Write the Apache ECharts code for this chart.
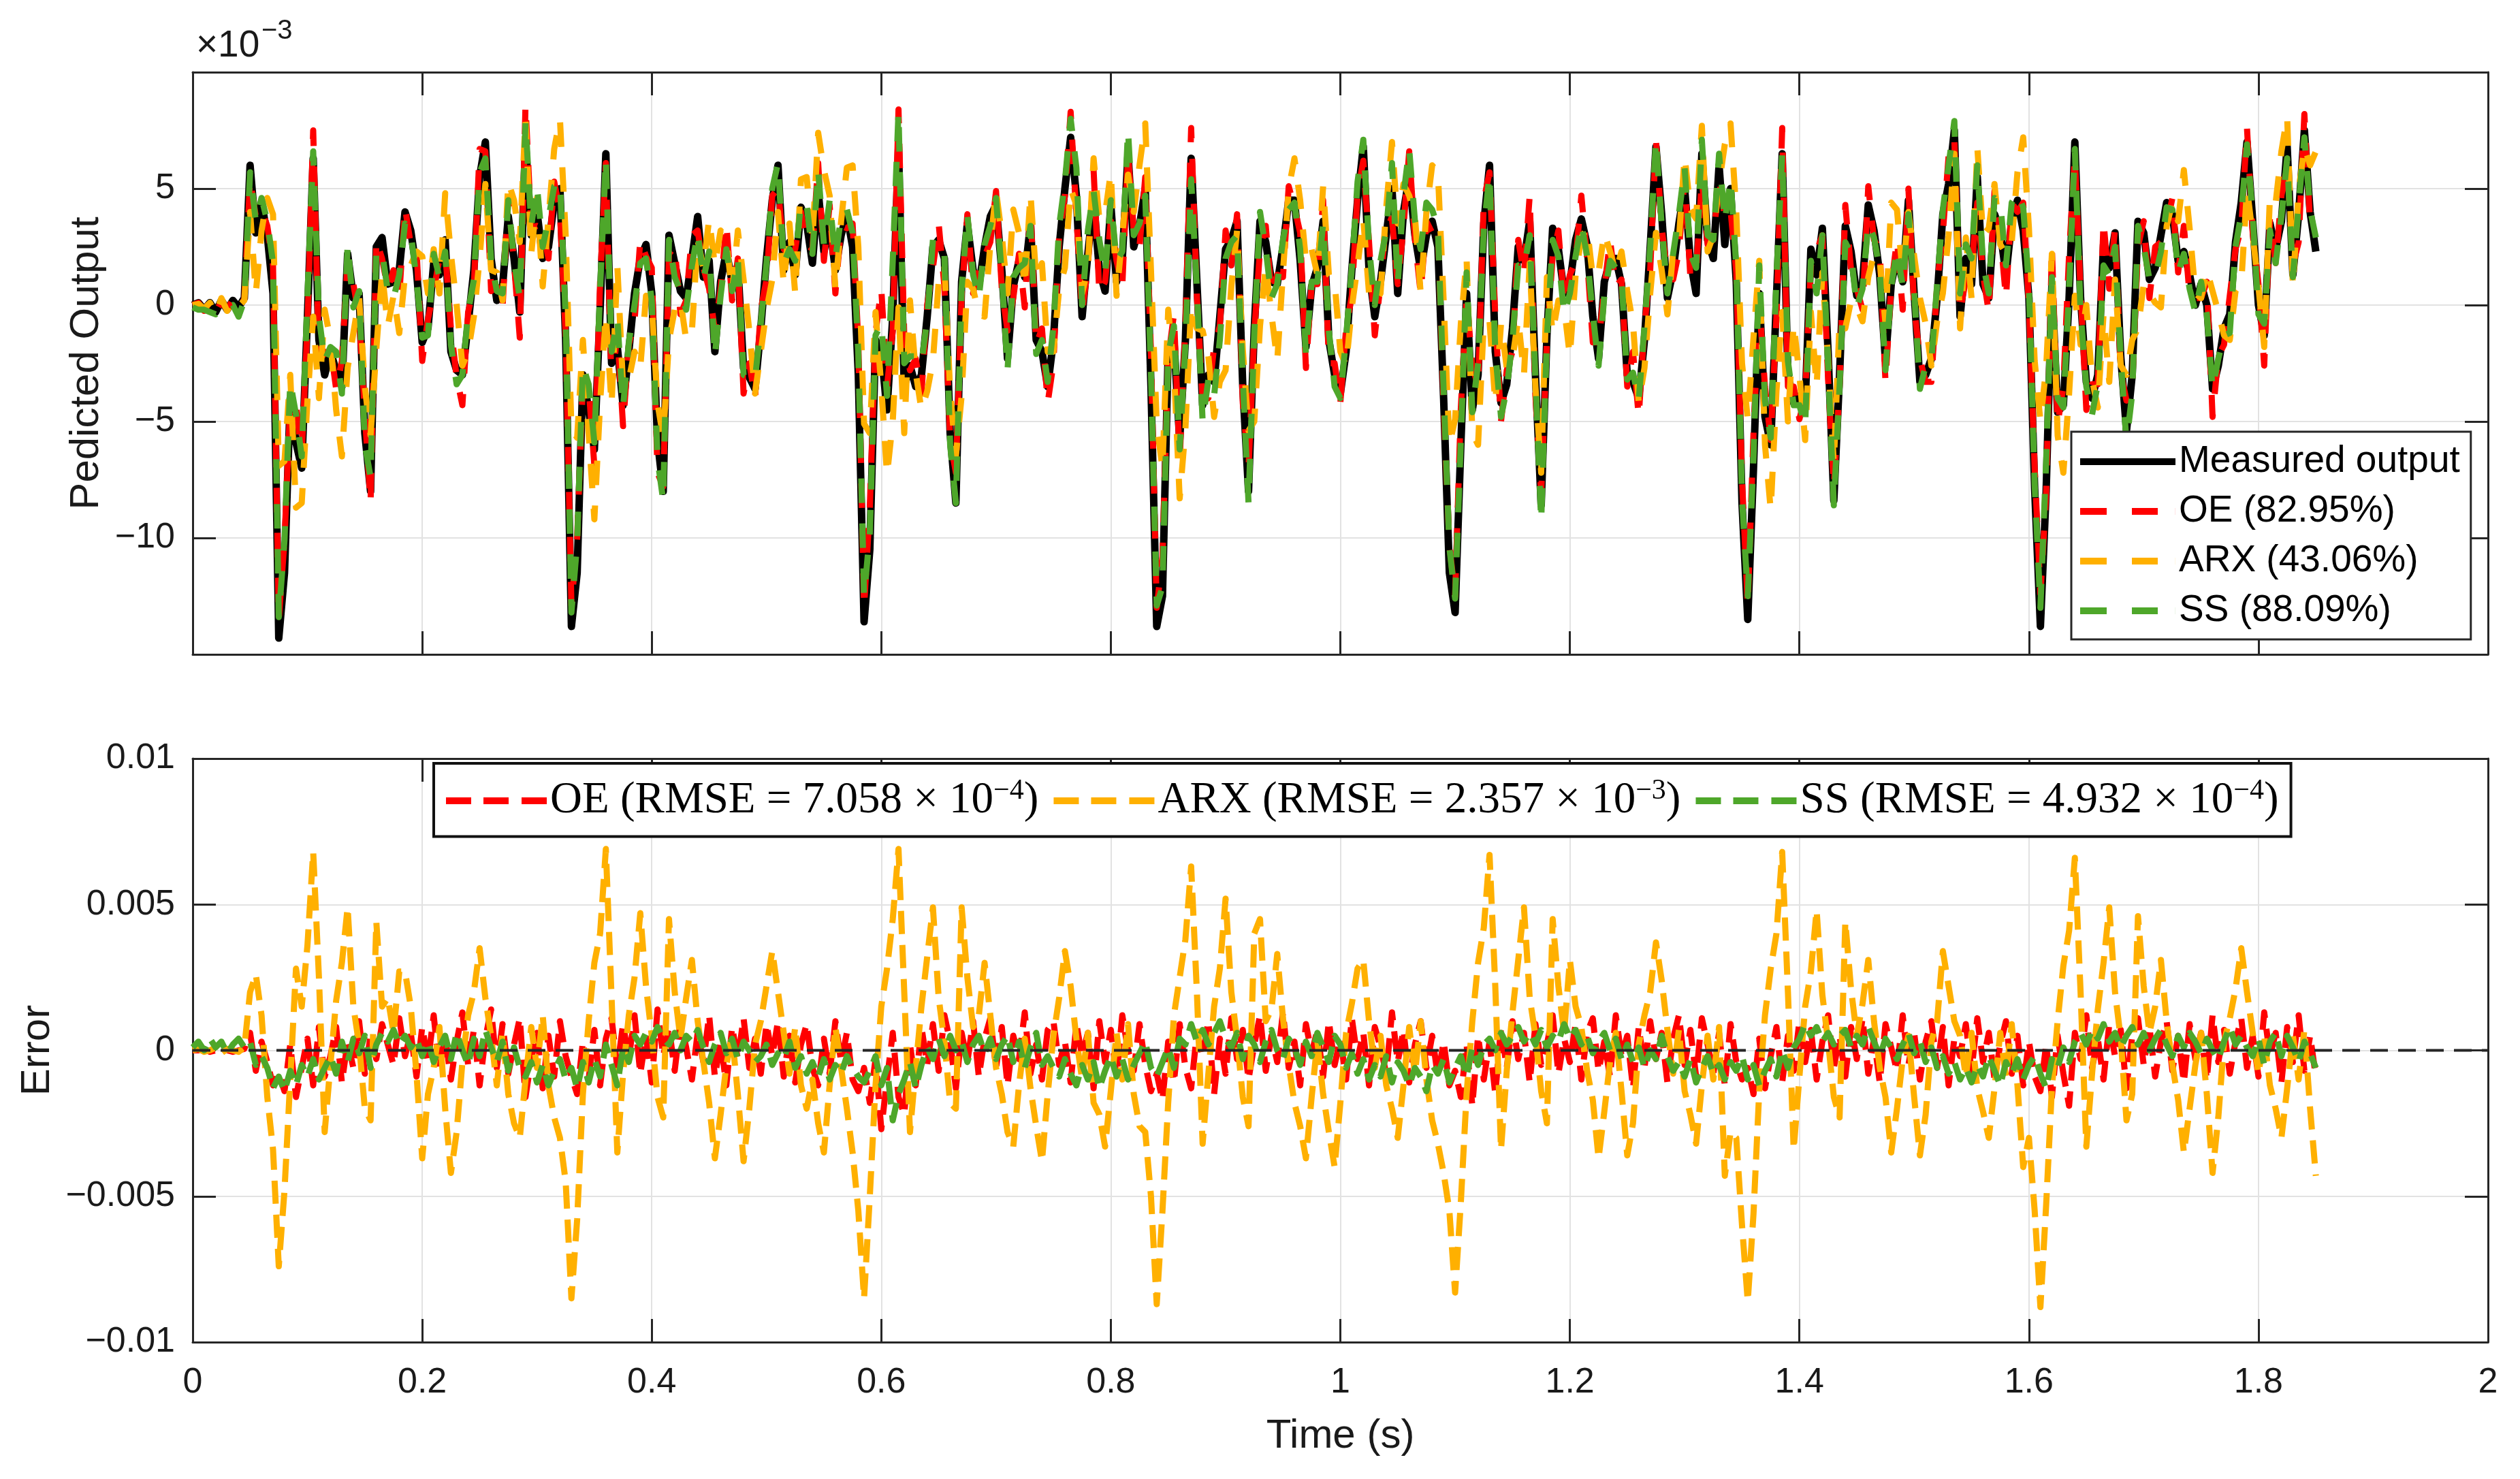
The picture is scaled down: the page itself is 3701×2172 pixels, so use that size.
<!DOCTYPE html>
<html>
<head>
<meta charset="utf-8">
<title>Predicted output and error</title>
<script src="https://cdn.jsdelivr.net/npm/echarts@6/dist/echarts.min.js"></script>
<style>
  html, body { margin: 0; padding: 0; background: #fff; }
  #chart { width: 3701px; height: 2172px; }
</style>
</head>
<body>
<div id="chart"></div>
<script>
// sampling step of the records, s
var dt = 0.005;

// measured output (x1e-3), one value per sample
var measured = [
  0, 0.1, -0.2, 0.1, -0.3, 0.2, -0.2, 0.2, -0.1, 0.3,
  6.0, 3.1, 4.4, 3.0, 0.5, -14.3, -11.5, -4.0, -5.9, -7.0,
  -0.5, 6.3, -1.5, -3.0, -2.0, -2.8, -3.5, 2.2, 0.3, 0.5,
  -5.5, -8.0, 2.5, 2.9, 0.9, 1.0, 1.5, 4.0, 3.2, 1.5,
  -1.6, -1.0, 1.8, 1.3, 2.8, -2.0, -2.8, -3.0, -0.8, 1.5,
  5.5, 7.0, 2.0, 0.2, 0.8, 3.8, 2.0, -0.3, 7.0, 3.0,
  4.0, 2.0, 2.5, 4.4, 5.0, -1.5, -13.8, -11.5, -3.0, -4.5,
  -6.2, -0.2, 6.5, -2.5, -1.8, -4.3, -2.0, 0.5, 2.0, 2.6,
  0.5, -5.8, -8.0, 3.0, 1.8, 0.6, 0.3, 2.0, 3.8, 1.2,
  1.9, -2.0, 1.0, 2.3, 1.0, 1.7, -2.7, -3.1, -3.6, -1.0,
  2.0, 4.5, 6.0, 1.5, 2.7, 1.3, 4.2, 3.5, 1.8, 4.9,
  2.3, 3.5, 1.5, 3.0, 3.9, 2.5, -3.0, -13.6, -10.5, -1.5,
  -2.0, -4.5, -0.5, 6.8, -3.5, -2.6, -3.5, -3.0, -0.5, 2.5,
  2.8, 2.0, -5.5, -8.5, 1.0, 3.5, 1.5, 0.8, 2.5, 3.8,
  4.3, 1.5, -2.3, 0.8, 1.9, 1.2, 3.5, -1.5, -2.0, -3.5,
  -1.5, 2.5, 5.0, 7.2, 4.7, -0.5, 2.2, 4.5, 1.5, 0.6,
  4.3, 1.0, 2.0, 6.5, 2.5, 3.4, 5.0, -3.5, -13.8, -12.5,
  -2.0, -1.5, -5.8, -1.5, 6.3, 1.0, -4.3, -3.0, -3.3, -0.5,
  2.4, 2.8, 3.6, -3.5, -8.0, -1.0, 3.6, 2.7, 1.0, 0.9,
  2.5, 4.5, 4.5, 1.9, -1.8, 0.8, 1.6, 3.6, -1.5, -3.0,
  -3.8, -2.0, 1.5, 4.5, 6.8, 1.5, -0.5, 1.0, 3.0, 5.0,
  0.5, 4.0, 5.5, 3.0, 1.5, 3.0, 3.6, 2.5, -4.0, -11.5,
  -13.2, -6.0, 0.5, -4.5, -3.0, 3.5, 6.0, -2.0, -4.2, -3.4,
  -1.0, 2.5, 1.9, 3.6, -3.0, -8.6, -1.3, 3.3, 2.4, 0.5,
  0.9, 2.8, 3.7, 2.6, -0.5, -2.3, 1.0, 1.9, 2.0, 0.9,
  -3.0, -3.3, -4.0, -1.5, 2.5, 6.8, 3.9, 0.3, 1.5, 3.5,
  5.0, 1.9, 0.5, 6.5, 2.8, 2.0, 6.0, 2.6, 5.0, 1.0,
  -8.5, -13.5, -7.0, 0.5, -4.8, -6.0, 0.3, 6.5, -3.0, -4.2,
  -3.9, -4.3, 2.4, 1.3, 3.3, -2.0, -8.4, -3.0, 3.4, 2.3,
  0.4, 0.9, 4.3, 3.2, 1.3, -2.4, 0.9, 2.1, 1.0, 4.5,
  0.5, -3.3, -3.0, -2.3, 0.3, 3.9, 5.2, 7.5, -0.5, 2.0,
  0.9, 5.5, 0.9, 0.3, 3.9, 3.2, 1.3, 3.6, 4.5, 3.2,
  0.3, -7.9, -13.8, -8.0, 0.9, -4.6, -4.3, 0.3, 7.0, 0.3,
  -3.3, -4.0, -3.0, 2.6, 1.6, 3.1, -2.2, -5.4, -3.0, 3.6,
  3.1, 1.1, 1.6, 3.0, 4.4, 3.9, 1.9, 2.3, 1.3, 0.0,
  0.9, 0.0, -3.6, -2.6, -1.0, -0.4, 2.7, 4.4, 7.0, 3.6,
  0.0, -1.3, 3.5, 2.4, 3.6, 6.8, 1.3, 3.9, 7.5, 4.0, 2.3
];

// error = measured - predicted (x1e-3), OE model
var errOE = [
  0.0, 0.0, 0.05, -0.05, 0.0, 0.05, 0.0, -0.05, 0.0, 0.05,
  0.6, -0.7, 0.3, -0.4, -1.2, -0.8, -1.4, 0.2, -1.6, -0.6,
  0.4, -1.2, 0.8, -0.9, -0.2, 0.8, -1.1, 0.3, -0.6, 1.0,
  -0.8, 0.5, -0.3, 0.9, 0.2, -0.5, 1.1, -0.2, 0.6, -0.9,
  0.8, -0.4, 1.2, -0.7, 0.5, -1.0, 0.3, 1.3, -0.5, 0.7,
  -1.2, 0.4, 1.4, -0.6, 0.9, -0.8, 0.2, 1.1, -1.6, -0.3,
  0.6, -1.3, 0.5, -0.9, 1.0, -0.2, -0.9, -1.5, 0.3, -1.0,
  0.7, -1.2, 0.4, 1.1, -0.6, 0.9, -0.3, 1.2, -0.8, 0.5,
  -1.1, 1.4, -0.2, 0.8, -0.7, 1.0, 0.1, -1.0, 0.6, -0.4,
  1.2, -0.9, 0.3, -1.2, 0.8, -0.3, 1.1, -0.6, 0.4, -0.8,
  0.9, -0.2, 1.0, -0.9, 0.5, -1.1, 0.2, 0.9, -0.6, -1.2,
  0.4, -0.8, 1.0, -0.4, 0.6, -1.0, -1.4, -0.6, -1.8, -0.3,
  -2.7, -1.0, 0.6, -1.6, -2.2, 0.2, -1.2, 0.8, -0.5, 0.9,
  -0.7, 1.2, 0.3, -1.3, 0.6, -0.4, 1.0, -0.9, 0.4, 1.1,
  -0.6, 0.8, -1.2, 0.5, -0.3, 1.3, -0.8, 0.2, -1.0, 0.7,
  1.0, -0.5, 0.3, -1.1, 0.9, -0.2, 0.6, -1.3, 1.0, -0.4,
  0.7, -0.9, 1.2, 0.0, -0.7, 0.9, -0.5, -1.4, -0.8, -1.7,
  0.3, -1.1, 0.9, -0.6, -1.3, 0.6, -0.2, 1.0, -1.5, 0.4,
  -0.8, 1.1, -0.3, 0.7, -1.0, 0.2, 1.2, -0.7, 0.5, -0.4,
  1.3, -0.6, 0.3, -1.2, 0.9, -0.1, 0.7, -0.9, 1.0, -0.5,
  0.4, -1.0, 1.1, -0.3, 0.6, -1.2, 0.8, 0.1, -0.8, 1.3,
  -0.4, 0.7, -1.1, 0.2, 1.0, -0.6, 0.5, -0.9, 0.3, -1.2,
  -0.7, -1.6, 0.2, -1.9, 0.5, -1.0, 0.3, -1.5, 0.8, -0.6,
  1.0, -0.3, 0.6, -1.1, 0.9, -0.5, 0.2, 1.2, -0.8, 0.4,
  -0.4, 0.9, -1.0, 0.6, 1.1, -0.7, 0.3, -0.9, 1.2, -0.2,
  0.5, -1.3, 0.8, -0.6, 1.0, -0.3, 0.6, -1.1, 0.4, 1.2,
  -0.5, 0.7, -0.9, 1.1, 0.2, -0.8, 0.6, -1.2, 0.9, -0.4,
  -1.0, -0.6, -1.5, 0.4, -1.3, -0.2, 0.8, -1.1, 0.5, -0.7,
  1.0, -0.4, 0.7, -1.0, 0.3, 1.2, -0.6, 0.5, -0.9, 0.8,
  -0.3, 1.1, -0.8, 0.4, -1.1, 0.9, 0.1, -0.7, 1.2, -0.5,
  0.6, -1.0, 0.3, 1.0, -0.6, 0.8, -1.2, 0.4, -0.2, 0.9,
  -0.7, 1.1, -0.4, 0.6, -1.0, 0.2, 1.0, -0.8, 0.5, -1.2,
  0.3, -0.9, -1.4, 0.2, -1.6, 0.5, -0.8, -1.9, 0.6, -0.3,
  1.2, -0.6, 0.4, -1.0, 0.9, -0.2, 0.7, -1.3, 0.5, 1.1,
  -0.5, 0.8, -0.9, 0.3, 1.0, -0.7, 0.5, -1.1, 0.9, -0.3,
  0.6, -1.0, 1.2, -0.4, 0.7, -0.8, 0.3, 1.1, -0.6, 0.5,
  -0.9, 1.3, -0.2, 0.6, -1.1, 0.8, -0.4, 1.2, -0.7, 0.5, -0.9
];

// ARX model error (x1e-3)
var errARX = [
  0.0, 0.05, -0.05, 0.0, 0.1, -0.1, 0.05, 0.0, -0.05, 0.1,
  2.0, 2.6, 1.2, -1.6, -3.4,
  -7.4, -4.8, -1.0, 2.8, 1.5, 3.6, 6.8, 2.5, -2.8, -0.5,
  1.7, 3.0, 4.9, 1.5, 0.2, -2.0, -2.4, 4.4, 1.5, 1.8,
  0.6, 2.7, 2.7, 1.5, -0.8, -3.7, -1.5, -0.6, 0.8, -2.0,
  -4.2, -2.8, -0.4, 1.2, 2.0, 3.5, 1.8, 0.5, -1.2, 0.6,
  -1.5, -2.5, -3.0, -1.0, 0.8, -0.6, 1.2, -1.2, -2.3, -3.0,
  -4.5,
  -8.5, -5.8, -1.5, 1.0, 3.0, 4.0, 6.9, 1.8, -3.5, -0.8,
  1.2, 2.5, 4.7, 2.2, 0.5, -1.6, -2.3, 4.5, 2.0, 0.4,
  1.8, 3.1, 1.0, -0.4, -1.8, -3.7, -2.2, -0.5, 0.5, -1.5,
  -3.8, -2.0, 0.2, 1.0, 2.2, 3.4, 2.0, 0.6, -0.8, 0.8,
  -1.2, -2.0, -1.0, -2.5, -3.5, -1.2, 0.8, -0.6, -2.0, -3.5,
  -5.5,
  -8.5, -5.0, -1.2, 1.5, 2.8, 4.5, 6.9, 2.0, -2.8, -0.6,
  1.5, 3.2, 4.9, 1.8, 0.3, -1.8, -2.0, 4.9, 2.5, 0.8,
  1.2, 3.0, 1.2, -0.6, -1.5, -2.8, -3.3, -1.2, 0.4, -1.3,
  -2.6, -3.8, -1.5, 0.5, 1.8, 3.4, 2.2, 0.4, -1.0, 0.6,
  -1.8, -2.2, -3.3, -1.4, 0.6, -1.0, 0.9, -1.5, -2.6, -2.8,
  -5.0,
  -8.7, -5.5, -1.8, 1.2, 2.5, 3.8, 6.3, 2.0, -3.2, -0.8,
  1.5, 2.8, 5.2, 2.0, 0.4, -1.6, -2.6, 4.0, 4.5, 1.0,
  1.4, 3.3, 1.1, -0.5, -1.8, -2.6, -3.7, -1.6, 0.3, -1.5,
  -2.8, -4.0, -1.8, 0.6, 1.6, 2.8, 3.1, 1.0, -0.6, 0.5,
  -1.2, -2.0, -3.0, -1.2, 0.8, -0.8, 1.0, -1.0, -2.4, -3.2,
  -4.2, -5.5,
  -8.3, -5.2, -1.5, 1.0, 3.0, 4.2, 6.7, 2.2, -3.4, -0.7,
  1.3, 3.1, 4.9, 1.8, 0.5, -1.4, -2.5, 4.5, 2.2, 0.6,
  3.1, 1.5, 0.8, -0.7, -1.7, -3.7, -2.1, -0.4, 0.6, -1.4,
  -3.6, -2.5, 0.2, 1.2, 2.0, 3.7, 2.4, 0.7, -0.8, 0.7,
  -1.4, -2.2, -3.2, -1.2, 0.5, -1.0, 0.8, -4.3, -2.8, -3.0,
  -6.0,
  -8.6, -5.6, -1.4, 1.2, 2.8, 4.0, 6.8, 2.0, -3.4, -0.9,
  1.5, 2.7, 4.8, 1.9, 0.3, -1.6, -2.3, 4.4, 2.1, 0.5,
  1.6, 3.1, 1.0, -0.6, -1.6, -3.5, -2.0, -0.3, 0.5, -1.6,
  -3.6, -2.2, 0.3, 1.0, 3.4, 2.2, 1.0, 0.5, -0.9, 0.6,
  -1.3, -2.1, -3.0, -1.3, 0.6, -0.9, 0.9, -1.2, -4.0, -3.0,
  -5.5,
  -8.8, -5.3, -1.3, 1.0, 2.9, 4.1, 6.6, 2.0, -3.3, -0.8,
  1.4, 3.0, 4.9, 2.0, 0.4, -2.4, -1.5, 4.6, 2.2, 0.6,
  1.5, 3.1, 1.0, -0.5, -1.7, -3.5, -2.0, -0.5, 0.6, -1.5,
  -4.2, -2.3, 0.3, 1.1, 2.1, 3.5, 2.0, 0.6, -0.8, 0.5,
  -1.2, -2.0, -3.0, -1.3, 0.5, -1.0, 0.7, -2.0, -4.3
];

// SS model error (x1e-3)
var errSS = [
  0.1, 0.3, 0.0, 0.4, 0.1, 0.3, -0.1, 0.2, 0.4, 0.1,
  0.3, -0.5, -0.2, -0.6, -1.3, -0.9, -1.4, -0.7, -1.2, -0.5,
  -0.9, -0.3, -1.0, -0.6, -0.2, -0.8, 0.3, -0.4, 0.4, -0.1,
  0.5, -0.6, 0.2, 0.6, 0.3, 0.7, 0.2, 0.5, 0.1, 0.4,
  -0.2, 0.3, -0.4, 0.1, 0.5, -0.3, 0.6, 0.0, -0.5, 0.4,
  -0.2, 0.7, 0.1, -0.4, 0.3, -0.7, 0.1, -0.6, -0.9, -0.4,
  -1.1, -0.5, -1.2, -0.7, -0.3, -1.0, -0.6, -1.3, -0.4, -1.1,
  -0.3, -0.9, 0.2, -0.5, -1.2, 0.1, -0.4, 0.5, 0.2, 0.6,
  0.3, 0.8, 0.4, 0.2, 0.6, 0.0, 0.5, 0.3, 0.7, 0.1,
  -0.4, 0.2, 0.6, -0.1, 0.4, -0.3, 0.3, 0.0, -0.4, -0.2,
  0.2, -0.5, -0.1, -0.3, 0.3, -0.6, -0.2, -0.8, -0.4, -0.9,
  -0.3, -1.0, -0.5, -0.8, -0.2, -0.6, -0.9, -1.1, -0.7, -0.2,
  -1.2, -0.6, -2.4, -1.5, -1.0, -0.4, -1.3, -0.5, 0.1, -0.3,
  0.4, -0.2, 0.5, 0.0, 0.3, -0.4, 0.2, 0.5, -0.1, 0.4,
  -0.3, 0.2, 0.5, -0.4, 0.3, -0.6, 0.1, 0.6, -0.5, -0.2,
  -0.6, -0.9, -0.3, -0.8, -1.2, -0.5, -1.0, -0.4, -1.3, -0.7,
  -0.2, -0.9, -0.3, -1.0, -0.5, -0.1, 0.3, -0.6, -0.9, -0.4,
  0.1, -0.6, 0.4, 0.2, 0.9, 0.3, 0.7, 0.2, 0.6, 1.0,
  0.4, 0.1, 0.6, -0.3, 0.5, 0.2, -0.4, 0.3, 0.7, 0.0,
  -0.3, 0.4, 0.1, -0.5, 0.3, -0.2, 0.6, 0.1, -0.4, 0.5,
  0.2, -0.6, -0.1, -0.8, -0.3, -1.0, -0.5, -0.9, -0.2, -1.1,
  -0.4, -0.7, -1.2, -0.6, -0.9, -1.4, -0.5, -0.8, -0.3, -1.1,
  -0.6, -0.2, -0.9, 0.1, -0.5, 0.2, 0.4, 0.0, 0.6, 0.2,
  0.5, 0.8, 0.3, 0.6, 0.2, 0.7, 0.1, 0.5, 0.3, 0.9,
  0.4, 0.7, 0.2, 0.5, -0.1, 0.3, 0.6, 0.0, 0.4, -0.3,
  0.2, -0.4, 0.1, -0.6, 0.0, -0.3, 0.5, -0.2, -0.7, -0.4,
  -0.9, -0.3, -1.1, -0.6, -0.2, -0.8, -0.5, -1.0, -0.4, -0.7,
  -0.2, -1.0, -0.5, -1.2, -0.7, -0.3, -0.9, 0.0, -0.6, 0.1,
  0.4, 0.9, 0.5, 0.8, 0.3, 0.6, 0.2, 0.5, 0.7, 0.1,
  0.5, 0.2, 0.8, 0.3, -0.2, 0.4, 0.1, -0.3, 0.2, 0.6,
  -0.1, 0.3, -0.4, 0.1, -0.6, -0.2, -0.8, -0.4, -1.0, -0.6,
  -1.1, -0.5, -0.9, -0.2, -0.7, -1.2, -0.4, -0.8, -0.3, -1.0,
  -0.5, -0.2, -0.8, -1.3, -0.3, -0.6, 0.1, -0.4, 0.3, 0.6,
  0.2, 0.7, 0.4, 0.9, 0.3, 0.6, 0.1, 0.5, 0.8, 0.2,
  0.6, 0.0, 0.4, 0.7, 0.2, -0.2, 0.5, 0.1, 0.6, 0.3,
  -0.1, 0.4, 0.0, -0.3, 0.3, 0.8, 0.2, 0.5, 0.1, -0.2,
  0.4, -0.5, 0.3, 0.6, -0.2, 0.5, 0.1, -0.4, 0.3, -0.1, -0.6
];

var topNames = ['Measured output', 'OE (82.95%)', 'ARX (43.06%)', 'SS (88.09%)'];
// bottom legend: model, RMSE mantissa, exponent
var rmseInfo = [['OE', '7.058', '\u22124'], ['ARX', '2.357', '\u22123'], ['SS', '4.932', '\u22124']];
var errTickLabels = { '10': '0.01', '5': '0.005', '0': '0', '-5': '\u22120.005', '-10': '\u22120.01' };

var colors = { meas: '#000000', oe: '#ff0000', arx: '#ffb000', ss: '#4ea72a' };
var axisColor = '#262626';
var gridColor = '#e2e2e2';
var sans = 'Liberation Sans, Arial, Helvetica, sans-serif';
var serif = 'Liberation Serif, Times New Roman, serif';

// legend samples: solid bar, two long dashes, three short dashes
var iconSolid = 'path://M0,0h140v10h-140z';
var iconDash2 = 'path://M0,0h39v10h-39z M76,0h38v10h-38z M139.9,0h0.1v10h-0.1z';
var iconDash3 = 'path://M0,0h37v10h-37z M55,0h37v10h-37z M111,0h37v10h-37z';

function pairs(arr) {
  return arr.map(function (v, i) { return [Math.round(i * dt * 1000) / 1000, v]; });
}
function minus(a, b) {
  return a.map(function (v, i) { return Math.round((v - b[i]) * 100) / 100; });
}

var predOE = minus(measured, errOE);
var predARX = minus(measured, errARX);
var predSS = minus(measured, errSS);

function xAxisDef(grid, pos, withLabels) {
  return {
    type: 'value', gridIndex: grid, position: pos, min: 0, max: 2, interval: 0.2,
    name: withLabels ? 'Time (s)' : '', nameLocation: 'middle', nameGap: 108,
    nameTextStyle: { fontFamily: sans, fontSize: 60, color: '#1a1a1a' },
    axisLine: { show: true, onZero: false, lineStyle: { color: axisColor, width: 3 } },
    axisTick: { show: true, inside: true, length: 34, lineStyle: { color: axisColor, width: 3 } },
    axisLabel: { show: withLabels, margin: 34, fontFamily: sans, fontSize: 52, color: '#1a1a1a' },
    splitLine: { show: pos === 'bottom', lineStyle: { color: gridColor, width: 2 } }
  };
}
function yAxisDef(grid, pos, main, lim, name, gap, fmt) {
  return {
    type: 'value', gridIndex: grid, position: pos, min: lim[0], max: lim[1], interval: 5,
    name: main ? name : '', nameLocation: 'middle', nameGap: gap, nameRotate: 90,
    nameTextStyle: { fontFamily: sans, fontSize: 60, color: '#1a1a1a' },
    axisLine: { show: true, onZero: false, lineStyle: { color: axisColor, width: 3 } },
    axisTick: { show: true, inside: true, length: 34, lineStyle: { color: axisColor, width: 3 } },
    axisLabel: { show: main, margin: 26, fontFamily: sans, fontSize: 52, color: '#1a1a1a', formatter: fmt },
    splitLine: { show: main, lineStyle: { color: gridColor, width: 2 } }
  };
}

function lineSeries(name, data, color, width, dash, xi, yi) {
  return {
    name: name, type: 'line', xAxisIndex: xi, yAxisIndex: yi,
    data: pairs(data), symbol: 'none', showSymbol: false, silent: true,
    lineStyle: { color: color, width: width, type: dash, cap: 'butt', join: 'round' },
    itemStyle: { color: color }
  };
}

var topDash = [36, 30];
var errDash = [34, 16];
var errNames = rmseInfo.map(function (r) { return r[0] + ' error'; });

var option = {
  animation: false,
  backgroundColor: '#ffffff',
  grid: [
    { left: 283, top: 106, width: 3371, height: 855 },
    { left: 283, top: 1114, width: 3371, height: 857 }
  ],
  xAxis: [
    xAxisDef(0, 'bottom', false),
    xAxisDef(0, 'top', false),
    xAxisDef(1, 'bottom', true),
    xAxisDef(1, 'top', false)
  ],
  yAxis: [
    yAxisDef(0, 'left', true, [-15, 10], 'Pedicted Output', 122, function (v) {
      if (v === -15 || v === 10) return '';
      return String(v).replace('-', '\u2212');
    }),
    yAxisDef(0, 'right', false, [-15, 10], '', 0, null),
    yAxisDef(1, 'left', true, [-10, 10], 'Error', 196, function (v) {
      return errTickLabels[String(v)];
    }),
    yAxisDef(1, 'right', false, [-10, 10], '', 0, null)
  ],
  legend: [
    {
      data: topNames.map(function (n, i) { return { name: n, icon: i === 0 ? iconSolid : iconDash2 }; }),
      orient: 'vertical', left: 3042, top: 634,
      itemWidth: 140, itemHeight: 11, itemGap: 13, itemTextGap: 16,
      padding: [14, 16, 12, 13],
      backgroundColor: '#ffffff', borderColor: axisColor, borderWidth: 3, borderRadius: 0,
      selectedMode: false,
      itemStyle: { borderWidth: 0 },
      textStyle: { fontFamily: sans, fontSize: 55, color: '#000', lineHeight: 60 }
    },
    {
      data: errNames.map(function (n) { return { name: n, icon: iconDash3 }; }),
      orient: 'horizontal', left: 637, top: 1121,
      itemWidth: 148, itemHeight: 11, itemGap: 22, itemTextGap: 28,
      padding: [20, 18, 20, 18],
      backgroundColor: '#ffffff', borderColor: '#111', borderWidth: 4, borderRadius: 0,
      selectedMode: false,
      itemStyle: { borderWidth: 0 },
      formatter: function (name) {
        var r = rmseInfo[errNames.indexOf(name)];
        return '{n|' + r[0] + ' (RMSE = ' + r[1] + ' \u00d7 10}{s|' + r[2] + '}{n|)}';
      },
      textStyle: {
        fontFamily: serif, fontSize: 65, color: '#000',
        rich: {
          n: { fontFamily: serif, fontSize: 65, lineHeight: 70, color: '#000' },
          s: { fontFamily: serif, fontSize: 42, lineHeight: 42, color: '#000', verticalAlign: 'top' }
        }
      }
    }
  ],
  graphic: [
    { type: 'text', left: 288, top: 40, style: { text: '\u00d710', font: '55px ' + sans, fill: '#1a1a1a' } },
    { type: 'text', left: 384, top: 26, style: { text: '\u22123', font: '40px ' + sans, fill: '#1a1a1a' } }
  ],
  series: [
    lineSeries(topNames[0], measured, colors.meas, 11, 'solid', 0, 0),
    lineSeries(topNames[1], predOE, colors.oe, 9, topDash, 0, 0),
    lineSeries(topNames[2], predARX, colors.arx, 9, topDash, 0, 0),
    lineSeries(topNames[3], predSS, colors.ss, 9, topDash, 0, 0),
    lineSeries(errNames[0], errOE, colors.oe, 9, errDash, 2, 2),
    lineSeries(errNames[1], errARX, colors.arx, 9, errDash, 2, 2),
    lineSeries(errNames[2], errSS, colors.ss, 9, errDash, 2, 2),
    {
      name: 'zero', type: 'line', xAxisIndex: 2, yAxisIndex: 2, silent: true,
      symbol: 'none', data: [[0, 0], [2, 0]], z: 5,
      lineStyle: { color: '#262626', width: 4, type: [26, 15] }
    }
  ]
};

var chart = echarts.init(document.getElementById('chart'));
chart.setOption(option);
</script>
</body>
</html>
